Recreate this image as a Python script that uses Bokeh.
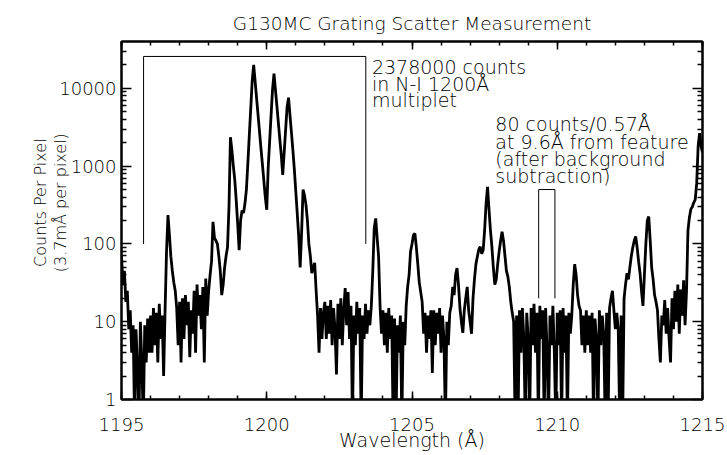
import math
from bokeh.plotting import figure
from bokeh.models import (ColumnDataSource, Range1d, FixedTicker, SingleIntervalTicker,
                          LinearAxis, LogAxis, Label, PrintfTickFormatter)
from bokeh.embed import file_html
from bokeh.resources import INLINE

# ---------------- data ----------------
# counts per pixel sampled every 0.05 A from 1195.00 to 1215.00
c1195 = [70, 30, 45, 18, 25, 8, 14, 4, 9, 0.5, 8, 2.5, 0.5, 10, 3, 0.5, 9, 3, 11, 4]
c1196 = [12, 4, 15, 5, 13, 3, 17, 6, 12, 2, 14, 80, 235, 130, 68, 45, 32, 25, 15, 5]
c1197 = [18, 3, 20, 6, 22, 9, 18, 3.5, 14, 7, 25, 4, 30, 12, 22, 8, 28, 3, 36, 12]
c1198 = [25, 40, 60, 192, 120, 110, 100, 70, 45, 22, 30, 50, 70, 91, 300, 2350, 1600, 1000, 660, 360]
c1199 = [180, 83, 200, 270, 250, 330, 500, 1100, 2500, 5600, 12600, 20000, 12300, 7500, 4600, 2800, 1700, 1060, 650, 400]
c1200 = [275, 960, 2100, 4600, 9800, 15400, 9500, 5900, 3600, 2200, 1380, 770, 1500, 2950, 5750, 7600, 4500, 2700, 1600, 900]
c1201 = [470, 245, 125, 50, 140, 500, 420, 320, 200, 100, 70, 42, 50, 57, 25, 12, 4, 15, 6, 13]
c1202 = [18, 6, 16, 7, 19, 5, 15, 8, 2.1, 17, 6, 20, 5, 14, 27, 9, 24, 6, 16, 0.5]
c1203 = [12, 5, 18, 7, 15, 0.5, 12, 6, 17, 7, 14, 9, 16, 45, 160, 213, 120, 69, 16, 7]
c1204 = [14, 5, 13, 4, 15, 6, 12, 0.5, 11, 0.5, 9, 4, 12, 0.5, 10, 5, 16, 28, 40, 80]
c1205 = [100, 130, 137, 90, 55, 32, 24, 18, 7, 13, 4, 12, 6, 14, 2.2, 14, 5, 13, 7, 15]
c1206 = [4, 12, 6, 0.5, 10, 5, 13, 16, 28, 22, 40, 49, 30, 15, 10, 7.2, 14, 20, 28, 14]
c1207 = [10, 7, 20, 35, 55, 69, 85, 92, 75, 83, 150, 330, 540, 280, 150, 92, 50, 30, 35, 55]
c1208 = [80, 110, 144, 110, 70, 45, 38, 28, 18, 13, 10, 0.5, 12, 0.5, 14, 4, 15, 6, 0.5, 13]
c1209 = [6, 0.5, 15, 5, 17, 4, 13, 0.5, 16, 6, 14, 0.5, 15, 4, 0.5, 12, 5, 16, 4, 0.5]
c1210 = [13, 5, 14, 0.5, 15, 4, 12, 0.5, 13, 7, 12, 30, 55, 40, 22, 16, 14, 5, 12, 4]
c1211 = [14, 5, 12, 4, 13, 0.5, 11, 6, 0.5, 14, 5, 12, 7, 0.5, 13, 0.5, 15, 20, 25, 14]
c1212 = [8, 13, 7.9, 0.5, 12, 0.5, 20, 30, 42, 35, 50, 70, 90, 110, 125, 90, 60, 42, 25, 16]
c1213 = [40, 100, 200, 225, 110, 50, 35, 22, 18, 14, 6, 3, 12, 9, 19, 7, 15, 6, 3, 20]
c1214 = [8, 25, 10, 30, 7, 26, 12, 34, 9, 25, 150, 220, 280, 300, 340, 370, 600, 1800, 2650, 1800]
c1215 = [1500]

counts = (c1195 + c1196 + c1197 + c1198 + c1199 + c1200 + c1201 + c1202 + c1203 + c1204 +
          c1205 + c1206 + c1207 + c1208 + c1209 + c1210 + c1211 + c1212 + c1213 + c1214 + c1215)
wavelength = [round(1195 + 0.05 * i, 2) for i in range(len(counts))]

# annotation brackets
multiplet_x = [1195.76, 1195.76, 1203.41, 1203.41]
multiplet_y = [100, 25700, 25700, 100]
window_x = [1209.36, 1209.36, 1209.92, 1209.92]
window_y = [20, 500, 500, 20]

y_major = [1, 10, 100, 1000, 10000]
y_minor = [m * d for d in [1, 10, 100, 1000, 10000] for m in range(2, 10) if m * d < 40000]

title_text = "G130MC Grating Scatter Measurement"
xlabel = "Wavelength (Å)"
ylabel1 = "Counts Per Pixel"
ylabel2 = "(3.7mÅ per pixel)"
note1 = ["2378000 counts", "in N-I 1200Å", "multiplet"]
note1_y = [18600, 11400, 7030]
note2 = ["80 counts/0.57Å", "at 9.6Å from feature", "(after background", "subtraction)"]
note2_y = [3430, 2050, 1220, 740]

FONT = "DejaVu Sans Light, DejaVu Sans"
PAD = "\u00a0" * 7   # lifts the rotated y label above the frame centre, as in the reference

# ---------------- figure ----------------
p = figure(width=727, height=455, x_range=Range1d(1195, 1215), y_range=Range1d(1, 40000),
           y_axis_type="log", output_backend="svg", toolbar_location=None,
           min_border_left=121, min_border_right=25, min_border_top=41, min_border_bottom=56)
p.background_fill_color = "white"
p.border_fill_color = "white"
p.outline_line_color = "black"
p.outline_line_width = 2
p.grid.visible = False

p.title.text = title_text
p.title.align = "center"
p.title.text_font = FONT
p.title.text_font_size = "18.5px"
p.title.text_font_style = "normal"
p.title.text_color = "black"
p.title.standoff = 15

xt = SingleIntervalTicker(interval=5, num_minor_ticks=5)
yt = FixedTicker(ticks=y_major, minor_ticks=y_minor)

def style_common(ax):
    ax.axis_line_width = 2
    ax.major_tick_out = 0
    ax.minor_tick_out = 0
    ax.major_tick_line_width = 1.5
    ax.minor_tick_line_width = 1.5
    ax.major_label_text_color = "black"
    ax.axis_label_text_color = "black"

def style_x(ax):
    ax.ticker = xt
    style_common(ax)
    ax.major_tick_in = 8
    ax.minor_tick_in = 4

def style_y(ax):
    ax.ticker = yt
    style_common(ax)
    ax.major_tick_in = 10
    ax.minor_tick_in = 5

xa = p.xaxis[0]
style_x(xa)
xa.major_label_text_font = FONT
xa.major_label_text_font_size = "18px"
xa.major_label_standoff = 18
xa.axis_label = xlabel
xa.axis_label_text_font = FONT
xa.axis_label_text_font_size = "19px"
xa.axis_label_text_font_style = "normal"
xa.axis_label_standoff = -5

ya = p.yaxis[0]
style_y(ya)
ya.formatter = PrintfTickFormatter(format="%d")
ya.major_label_text_font = FONT
ya.major_label_text_font_size = "18px"
ya.major_label_standoff = 5
ya.axis_label = PAD + ylabel1 + "\n" + PAD + ylabel2
ya.axis_label_text_font = FONT
ya.axis_label_text_font_size = "16px"
ya.axis_label_text_font_style = "normal"
ya.axis_label_text_line_height = 1.05
ya.axis_label_standoff = -14

top = LinearAxis(major_label_text_font_size="1px", major_label_text_alpha=0, major_label_standoff=0)
style_x(top)
p.add_layout(top, "above")

right = LogAxis(major_label_text_font_size="1px", major_label_text_alpha=0, major_label_standoff=0)
style_y(right)
p.add_layout(right, "right")

src = ColumnDataSource(dict(wavelength=wavelength, counts=counts))
p.line("wavelength", "counts", source=src, line_color="black", line_width=2.8)

p.line(multiplet_x, multiplet_y, line_color="black", line_width=1)
p.line(window_x, window_y, line_color="black", line_width=1)

for t, yv in zip(note1, note1_y):
    p.add_layout(Label(x=1203.62, y=yv, text=t, text_font=FONT, text_font_size="19px",
                       text_baseline="alphabetic", text_align="left", text_color="black"))
for t, yv in zip(note2, note2_y):
    p.add_layout(Label(x=1207.87, y=yv, text=t, text_font=FONT, text_font_size="19px",
                       text_baseline="alphabetic", text_align="left", text_color="black"))

open("out.html", "w").write(file_html(p, INLINE))
